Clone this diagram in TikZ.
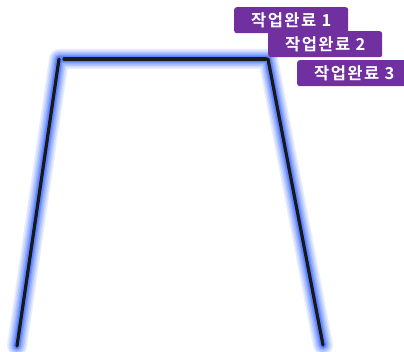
\documentclass[tikz,border=0pt]{standalone}
\usepackage{fontspec}
\newfontfamily\kr[LetterSpace=9]{Noto Sans CJK KR Bold}
\definecolor{tagpurple}{HTML}{7030A0}
\definecolor{glowblue}{HTML}{3D6BFF}
\begin{document}
\begin{tikzpicture}[x=1pt,y=-1pt,
  tag/.style={fill=tagpurple,rounded corners=2.5pt,text=white,font=\kr\fontsize{16.5}{16.5}\selectfont,
    minimum width=114pt,minimum height=26pt,inner sep=0pt},
  edge/.style={line width=3.2pt,draw=black!90,line cap=round}]
\useasboundingbox (0,0) rectangle (404,352);
\coordinate (bl) at (17,346);
\coordinate (tl) at (59,59);
\coordinate (tl2) at (64,59);
\coordinate (tr) at (266,59);
\coordinate (tr2) at (268,59);
\coordinate (br) at (323,345);
% glow
\foreach \w/\o in {20/0.12,17/0.14,14/0.18,11/0.25,8/0.35,6/0.45}{
  \draw[line width=\w pt,draw=glowblue,opacity=\o,line join=round,line cap=round] (bl) -- (tl) -- (tr2) -- (br);
}
\draw[edge] (bl) -- (tl);
\draw[edge] (tl2) -- (tr);
\draw[edge] (tr2) -- (br);
\node[tag,anchor=north west] (t1) at (234,7) {작업완료 1};
\node[tag,anchor=north west] (t2) at (268,31) {작업완료 2};
\node[tag,anchor=north west] (t3) at (297,60) {작업완료 3};
\end{tikzpicture}
\end{document}
